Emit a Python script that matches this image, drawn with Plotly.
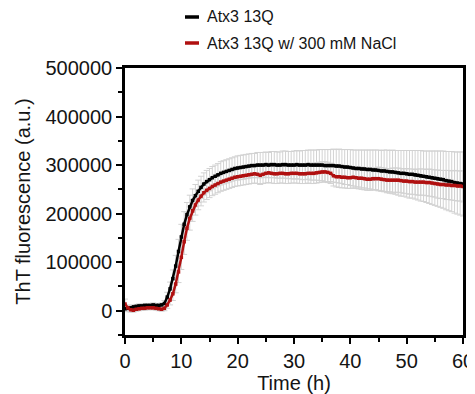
import plotly.graph_objects as go

time_h = [i * 0.5 for i in range(121)]

atx3_13q = [
    4000, 5000, 6000, 8000, 9000, 10000, 10000, 11000, 11000, 11000,
    12000, 11000, 11000, 12000, 15000, 28000, 45000, 66000, 92000, 122000,
    152000, 178000, 198000, 214000, 227000, 237000, 246000, 254000, 261000, 266000,
    270000, 274000, 277000, 280000, 283000, 285000, 287000, 289000, 291000, 293000,
    294000, 295000, 296000, 297000, 298000, 299000, 299000, 300000, 300000, 300000,
    301000, 300000, 301000, 301000, 300000, 300000, 301000, 301000, 300000, 300000,
    300000, 301000, 300000, 300000, 300000, 301000, 300000, 300000, 300000, 300000,
    300000, 299000, 299000, 299000, 299000, 298000, 298000, 297000, 296000, 296000,
    295000, 294000, 293000, 293000, 292000, 292000, 291000, 291000, 290000, 290000,
    289000, 288000, 288000, 287000, 286000, 286000, 285000, 284000, 283000, 283000,
    282000, 281000, 281000, 280000, 279000, 278000, 277000, 276000, 275000, 274000,
    273000, 272000, 271000, 270000, 268000, 267000, 266000, 264000, 263000, 262000,
    261000,
]
atx3_13q_err = [
    6000, 5000, 4000, 4000, 4000, 4000, 4000, 4000, 4000, 4000,
    4000, 4000, 4000, 4000, 6000, 10000, 14000, 18000, 22000, 25000,
    26000, 26000, 25000, 24000, 24000, 23000, 23000, 23000, 23000, 23000,
    23000, 23000, 23000, 23000, 24000, 24000, 24000, 24000, 24000, 24000,
    25000, 25000, 25000, 25000, 25000, 25000, 25000, 26000, 26000, 26000,
    26000, 26000, 27000, 27000, 27000, 27000, 28000, 28000, 28000, 28000,
    29000, 29000, 29000, 30000, 30000, 30000, 31000, 31000, 31000, 32000,
    32000, 33000, 33000, 33000, 34000, 34000, 35000, 35000, 36000, 36000,
    37000, 37000, 38000, 38000, 39000, 39000, 40000, 40000, 41000, 41000,
    42000, 42000, 43000, 44000, 44000, 45000, 45000, 46000, 47000, 47000,
    48000, 49000, 49000, 50000, 51000, 52000, 52000, 53000, 54000, 55000,
    56000, 57000, 58000, 59000, 60000, 61000, 62000, 63000, 64000, 65000,
    66000,
]

atx3_13q_nacl = [
    14000, 6000, 2000, 1000, 3000, 4000, 5000, 5000, 6000, 6000,
    6000, 5000, 4000, 3000, 5000, 12000, 22000, 35000, 55000, 80000,
    110000, 142000, 170000, 190000, 206000, 218000, 228000, 236000, 243000, 248000,
    252000, 256000, 259000, 262000, 265000, 267000, 269000, 271000, 273000, 275000,
    276000, 277000, 278000, 279000, 280000, 281000, 282000, 281000, 279000, 281000,
    283000, 284000, 283000, 282000, 282000, 283000, 283000, 282000, 282000, 283000,
    283000, 283000, 282000, 282000, 282000, 283000, 283000, 283000, 284000, 285000,
    286000, 286000, 285000, 283000, 278000, 276000, 276000, 275000, 275000, 274000,
    274000, 275000, 274000, 273000, 273000, 272000, 271000, 271000, 272000, 272000,
    272000, 271000, 270000, 269000, 269000, 269000, 269000, 269000, 268000, 267000,
    267000, 266000, 266000, 265000, 265000, 265000, 265000, 264000, 264000, 263000,
    262000, 261000, 260000, 260000, 259000, 259000, 258000, 258000, 257000, 257000,
    256000,
]
atx3_13q_nacl_err = [
    10000, 6000, 5000, 4000, 4000, 4000, 4000, 4000, 4000, 4000,
    4000, 4000, 4000, 4000, 5000, 7000, 10000, 14000, 18000, 22000,
    25000, 26000, 25000, 24000, 22000, 21000, 20000, 20000, 19000, 19000,
    19000, 19000, 19000, 19000, 19000, 19000, 19000, 19000, 19000, 19000,
    19000, 19000, 19000, 19000, 19000, 19000, 19000, 19000, 19000, 19000,
    20000, 20000, 20000, 20000, 20000, 20000, 20000, 20000, 20000, 20000,
    20000, 20000, 20000, 20000, 20000, 20000, 21000, 21000, 21000, 21000,
    21000, 21000, 21000, 21000, 21000, 21000, 22000, 22000, 22000, 22000,
    22000, 22000, 22000, 22000, 23000, 23000, 23000, 23000, 23000, 23000,
    24000, 24000, 24000, 24000, 24000, 25000, 25000, 25000, 25000, 25000,
    26000, 26000, 26000, 26000, 27000, 27000, 27000, 27000, 28000, 28000,
    28000, 29000, 29000, 29000, 30000, 30000, 30000, 31000, 31000, 31000,
    32000,
]

series_names = ["Atx3 13Q", "Atx3 13Q w/ 300 mM NaCl"]
series_colors = ["#000000", "#b01010"]

x_ticks = [0, 10, 20, 30, 40, 50, 60]
y_ticks = [0, 100000, 200000, 300000, 400000, 500000]

FONT = "Liberation Sans, Arial, sans-serif"
TXT = "#141414"
ERR_COLOR = "#d2d2d2"

# page body has an 8px margin, so the figure is offset by (8, 8)
OFF = 8
W, H = 475 - OFF, 394 - OFF
ML, MR, MT, MB = 125 - OFF, 12, 68 - OFF, 59
PW, PH = W - ML - MR, H - MT - MB

fig = go.Figure()

# error bars first (behind the mean curves)
for ys, es in [(atx3_13q, atx3_13q_err), (atx3_13q_nacl, atx3_13q_nacl_err)]:
    fig.add_trace(go.Scatter(
        x=time_h, y=ys, mode="markers",
        marker=dict(size=1, color="rgba(0,0,0,0)"),
        error_y=dict(type="data", array=es, visible=True,
                     color=ERR_COLOR, thickness=1, width=3),
        showlegend=False, hoverinfo="skip",
    ))

for ys, name, col in [(atx3_13q, series_names[0], series_colors[0]),
                      (atx3_13q_nacl, series_names[1], series_colors[1])]:
    fig.add_trace(go.Scatter(
        x=time_h, y=ys, mode="lines+markers", name=name,
        line=dict(color=col, width=2.5),
        marker=dict(symbol="square", size=3.5, color=col),
        showlegend=False,
    ))

# legend drawn as short lines + labels
leg_y = [17 - OFF, 43 - OFF]
for i, (name, col) in enumerate(zip(series_names, series_colors)):
    yp = (H - MB - leg_y[i]) / PH
    fig.add_shape(type="line", xref="paper", yref="paper",
                  x0=(185 - OFF - ML) / PW, x1=(199 - OFF - ML) / PW, y0=yp, y1=yp,
                  line=dict(color=col, width=3.5), layer="above")
    fig.add_annotation(xref="paper", yref="paper",
                       x=(206 - OFF - ML) / PW, y=yp,
                       text=name, showarrow=False, xanchor="left", yanchor="middle",
                       borderpad=0,
                       font=dict(family=FONT, size=16, color=TXT))

axis_common = dict(
    showline=True, linecolor="black", linewidth=2.5, mirror=True,
    ticks="outside", ticklen=6, tickwidth=2, tickcolor="black",
    showgrid=False, zeroline=False, automargin=False,
    tickfont=dict(family=FONT, size=20, color=TXT),
)

fig.update_xaxes(
    range=[0, 60], tickvals=x_ticks, ticktext=[str(v) for v in x_ticks],
    title=dict(text="Time (h)", font=dict(family=FONT, size=20, color=TXT), standoff=4),
    minor=dict(dtick=5, ticklen=4, tickwidth=2, tickcolor="black", ticks="outside"),
    **axis_common,
)
fig.update_yaxes(
    range=[-50000, 500000], tickvals=y_ticks, ticktext=[str(v) for v in y_ticks],
    title=dict(text="ThT fluorescence (a.u.)", font=dict(family=FONT, size=20, color=TXT), standoff=10),
    minor=dict(tick0=0, dtick=50000, ticklen=4, tickwidth=2, tickcolor="black", ticks="outside"),
    **axis_common,
)

fig.update_layout(
    width=W, height=H,
    margin=dict(l=ML, r=MR, t=MT, b=MB),
    paper_bgcolor="white", plot_bgcolor="white",
    showlegend=False,
    font=dict(family=FONT, color=TXT),
)

fig.write_html("out.html")
